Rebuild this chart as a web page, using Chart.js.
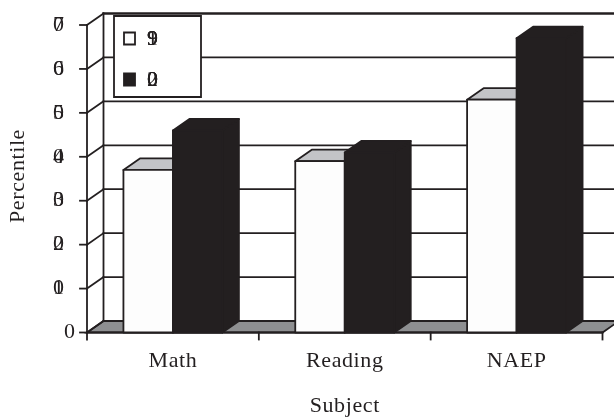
<!DOCTYPE html>
<html>
<head>
<meta charset="utf-8">
<script src="https://cdn.jsdelivr.net/npm/chart.js@4/dist/chart.umd.min.js"></script>
<style>
  html, body { margin: 0; padding: 0; background: #ffffff; }
  #wrap { width: 614px; height: 417px; }
</style>
</head>
<body>
<div id="wrap"><canvas id="c" width="614" height="417"></canvas></div>
<script>
// Percentile by subject, two years
const categories = ['Math', 'Reading', 'NAEP'];
const series1999 = [37, 39, 53];
const series2000 = [46, 41, 67];
const seriesLabels = ['1999', '2000'];
const yTickValues = [0, 10, 20, 30, 40, 50, 60, 70];
const yTickLabels = ['0', '10', '20', '30', '40', '50', '60', '70'];
const xTitle = 'Subject';
const yTitle = 'Percentile';

const INK = '#231f20';
const FLOOR = '#8e8f91';
const LIGHT_TOP = '#c3c4c7';
const FRONT = ['#fdfdfd', INK];
const TOPS = [LIGHT_TOP, INK];
const FONT = '22px "Liberation Serif", "Times New Roman", serif';
const LW = 1.8;
const DX = 16.5, DY = -11.5;   // depth offset of the 3-D box

function poly(ctx, pts, fill, stroke, lw) {
  ctx.beginPath();
  ctx.moveTo(pts[0][0], pts[0][1]);
  for (let i = 1; i < pts.length; i++) ctx.lineTo(pts[i][0], pts[i][1]);
  ctx.closePath();
  if (fill) { ctx.fillStyle = fill; ctx.fill(); }
  if (stroke) { ctx.strokeStyle = stroke; ctx.lineWidth = lw || LW; ctx.stroke(); }
}
function line(ctx, x1, y1, x2, y2, lw) {
  ctx.beginPath();
  ctx.moveTo(x1, y1); ctx.lineTo(x2, y2);
  ctx.strokeStyle = INK; ctx.lineWidth = lw || LW; ctx.stroke();
}
// every character of a label set at the same pen position
function stackedText(ctx, str, xLeft, yMid) {
  ctx.textAlign = 'left';
  ctx.textBaseline = 'middle';
  for (const ch of str) ctx.fillText(ch, xLeft, yMid);
}

const box3d = {
  id: 'box3d',
  beforeDatasetsDraw(chart) {
    const { ctx, chartArea, scales: { x, y } } = chart;
    const left = chartArea.left, right = chartArea.right;
    const y0 = y.getPixelForValue(0), yTop = y.getPixelForValue(yTickValues[yTickValues.length - 1]);
    ctx.save();
    ctx.lineCap = 'square';
    // floor
    poly(ctx, [[left, y0], [right, y0], [right + DX, y0 + DY], [left + DX, y0 + DY]], FLOOR, INK);
    // back wall grid and side wall diagonals
    yTickValues.forEach((v, i) => {
      const py = y.getPixelForValue(v);
      line(ctx, left + DX, py + DY, chart.width + 5, py + DY, i === yTickValues.length - 1 ? 2.4 : LW);
      line(ctx, left, py, left + DX, py + DY);
      line(ctx, left - 7, py, left, py);
    });
    line(ctx, left + DX, yTop + DY, left + DX, y0 + DY);
    line(ctx, left, yTop, left, y0);
    line(ctx, left, y0, right, y0);
    // category boundary ticks
    const step = x.getPixelForValue(1) - x.getPixelForValue(0);
    for (let i = 0; i <= categories.length; i++) {
      const px = x.getPixelForValue(0) - step / 2 + i * step;
      line(ctx, px, y0, px, y0 + 7);
    }
    ctx.restore();
  },
  afterDatasetsDraw(chart) {
    const { ctx } = chart;
    const metas = chart.data.datasets.map((d, i) => chart.getDatasetMeta(i));
    ctx.save();
    ctx.lineJoin = 'round';
    // per category, left column first so the right one sits in front of its side face
    categories.forEach((c, ci) => {
      metas.forEach((meta, di) => {
        const el = meta.data[ci];
        const { x, y, base, width } = el.getProps(['x', 'y', 'base', 'width'], true);
        const xl = x - width / 2, xr = x + width / 2;
        poly(ctx, [[xr, y], [xr + DX, y + DY], [xr + DX, base + DY], [xr, base]], TOPS[di], INK);
        poly(ctx, [[xl, y], [xl + DX, y + DY], [xr + DX, y + DY], [xr, y]], TOPS[di], INK);
        poly(ctx, [[xl, base], [xl, y], [xr, y], [xr, base]], FRONT[di], INK);
      });
    });
    ctx.restore();
  },
  afterDraw(chart) {
    const { ctx, chartArea, scales: { x, y } } = chart;
    const left = chartArea.left;
    ctx.save();
    ctx.font = FONT;
    ctx.fillStyle = INK;
    // value axis labels
    yTickValues.forEach((v, i) => {
      const py = y.getPixelForValue(v);
      const s = yTickLabels[i];
      const w = ctx.measureText(s).width;
      stackedText(ctx, s, left - 12 - w, py);
    });
    // category labels
    ctx.letterSpacing = '0.6px';
    ctx.textAlign = 'center';
    ctx.textBaseline = 'middle';
    categories.forEach((c, i) => ctx.fillText(c, x.getPixelForValue(i), 361));
    // axis titles
    ctx.fillText(xTitle, (chartArea.left + chartArea.right) / 2, 406);
    ctx.save();
    ctx.translate(18, 176);
    ctx.rotate(-Math.PI / 2);
    ctx.fillText(yTitle, 0, 0);
    ctx.restore();
    ctx.letterSpacing = '0px';
    // legend
    poly(ctx, [[114, 16], [201, 16], [201, 97], [114, 97]], '#ffffff', INK);
    chart.data.datasets.forEach((ds, i) => {
      const cy = 38.5 + i * 41;
      poly(ctx, [[124, cy - 6], [135, cy - 6], [135, cy + 6], [124, cy + 6]], FRONT[i], INK);
      ctx.fillStyle = INK;
      stackedText(ctx, ds.label, 147, cy + 1);
    });
    ctx.restore();
  }
};

new Chart(document.getElementById('c'), {
  type: 'bar',
  data: {
    labels: categories,
    datasets: [
      { label: seriesLabels[0], data: series1999, backgroundColor: 'rgba(0,0,0,0)', borderWidth: 0 },
      { label: seriesLabels[1], data: series2000, backgroundColor: 'rgba(0,0,0,0)', borderWidth: 0 }
    ]
  },
  options: {
    responsive: false,
    animation: false,
    devicePixelRatio: 1,
    layout: { padding: { left: 87, right: 11.5, top: 25, bottom: 84.5 } },
    datasets: { bar: { barPercentage: 1, categoryPercentage: 0.576 } },
    plugins: { legend: { display: false }, tooltip: { enabled: false }, title: { display: false } },
    scales: {
      x: { display: false },
      y: { display: false, min: 0, max: 70 }
    }
  },
  plugins: [box3d]
});
</script>
</body>
</html>
